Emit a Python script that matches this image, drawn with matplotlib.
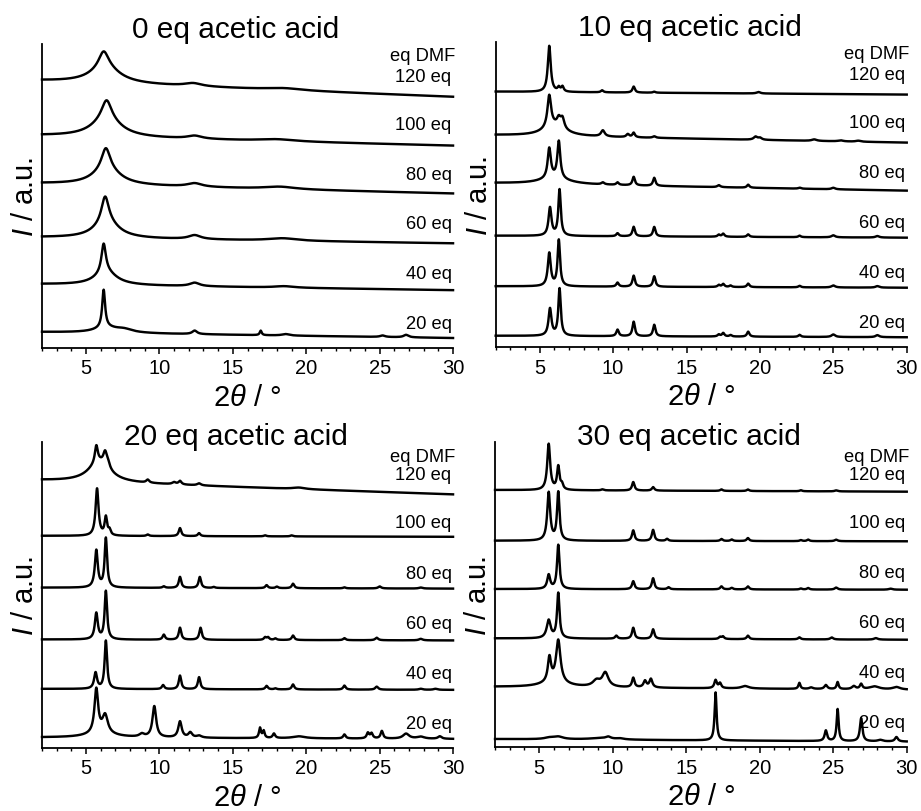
import numpy as np
import matplotlib
matplotlib.use("Agg")
import matplotlib.pyplot as plt
from matplotlib.ticker import MultipleLocator
from matplotlib.transforms import blended_transform_factory

plt.rcParams['font.family'] = ['Liberation Sans', 'DejaVu Sans']
plt.rcParams['mathtext.fontset'] = 'custom'
plt.rcParams['mathtext.rm'] = 'Liberation Sans'
plt.rcParams['mathtext.it'] = 'Liberation Sans:italic'

# 2theta grid (degrees)
two_theta = np.linspace(2, 30, 2801)

panel_titles = ['0 eq acetic acid', '10 eq acetic acid',
                '20 eq acetic acid', '30 eq acetic acid']
dmf_labels = ['20 eq', '40 eq', '60 eq', '80 eq', '100 eq', '120 eq']
label_heights = [16, 66, 116, 166, 216, 264]

# baseline (at 2 deg, at 30 deg) for each trace, bottom to top
base_aa0 = [(16, 10), (64, 58), (111, 105), (165, 155), (213, 203), (268, 252)]
base_aa10 = [(11.5, 10), (61, 59.5), (111.5, 109.5), (164, 156.5), (212, 204.5), (255.5, 252.5)]
base_aa20 = [(10.5, 9), (59, 58), (108.3, 107.3), (160, 159), (211.7, 210.7), (267, 253)]
base_aa30 = [(8.3, 5.7), (60.5, 57.6), (109, 107.6), (158.3, 157.6), (206.6, 206), (257.3, 255.6)]

# reflections: (position, height, half width)
peaks_aa0 = [
    [(6.2, 38, 0.12), (6.4, 5, 1.0), (7.6, 3, 0.7), (12.4, 3.5, 0.2), (16.9, 4.5, 0.08),
     (18.6, 1.5, 0.3), (25.2, 1.5, 0.2), (26.8, 2.5, 0.2)],
    [(6.2, 29, 0.18), (6.35, 13, 0.9), (12.4, 3.5, 0.4), (18.5, 1.5, 0.8)],
    [(6.3, 26, 0.3), (6.4, 16, 1.0), (12.4, 4, 0.5), (18.4, 2.5, 1.2)],
    [(6.35, 21, 0.35), (6.4, 16, 1.1), (12.4, 3.5, 0.6), (18.2, 2.5, 1.3)],
    [(6.4, 19, 0.4), (6.4, 18, 1.2), (12.4, 3, 0.6), (18.0, 2, 1.5)],
    [(6.2, 16, 0.4), (6.3, 16, 1.2), (12.3, 3, 0.7), (18.5, 2, 1.5)],
]
peaks_aa10 = [
    [(5.7, 27, 0.12), (6.35, 47, 0.1), (10.3, 6.5, 0.1), (11.4, 14.5, 0.1), (12.8, 11.5, 0.1),
     (17.2, 2, 0.1), (17.5, 3.5, 0.1), (18.0, 1.5, 0.1), (19.2, 5, 0.1), (22.7, 2, 0.1),
     (25.0, 2.5, 0.15), (28.0, 2, 0.15)],
    [(5.65, 33, 0.12), (6.3, 46, 0.1), (10.3, 4, 0.1), (11.4, 11, 0.1), (12.8, 10.5, 0.1),
     (17.2, 2, 0.1), (17.5, 3, 0.1), (18.0, 1.5, 0.1), (19.2, 3.5, 0.1), (22.7, 1.5, 0.1),
     (25.0, 2, 0.15), (28.0, 1.5, 0.15)],
    [(5.7, 28, 0.12), (6.35, 46, 0.1), (10.3, 3, 0.1), (11.4, 9.5, 0.1), (12.8, 9.5, 0.1),
     (17.2, 2, 0.1), (17.5, 3, 0.1), (19.2, 2.5, 0.1), (22.7, 1.5, 0.1), (25.0, 2, 0.15),
     (28.0, 1.5, 0.15)],
    [(5.65, 30, 0.13), (6.3, 37, 0.12), (6.0, 6, 1.2), (9.3, 2, 0.12), (10.3, 2.5, 0.1),
     (11.4, 8.5, 0.1), (12.8, 8, 0.1), (17.2, 2, 0.12), (19.2, 3, 0.1), (22.7, 1, 0.1),
     (25.0, 1.5, 0.15)],
    [(5.65, 32, 0.15), (6.0, 10, 0.9), (6.3, 8, 0.15), (6.55, 10, 0.15), (9.3, 6, 0.15),
     (11.0, 3, 0.12), (11.4, 4.5, 0.1), (12.8, 1.5, 0.12), (19.7, 3, 0.15), (20.0, 2, 0.15),
     (23.7, 1.5, 0.2), (25.5, 1, 0.2), (26.7, 1, 0.2)],
    [(5.65, 46, 0.12), (6.3, 4, 0.1), (6.55, 5, 0.1), (9.25, 2, 0.1), (11.4, 6, 0.1),
     (12.8, 1, 0.1), (19.9, 1.5, 0.15)],
]
peaks_aa20 = [
    [(5.7, 44, 0.15), (6.3, 18, 0.22), (6.0, 4, 1.2), (8.8, 3, 0.2), (9.65, 31, 0.15),
     (11.4, 16, 0.14), (12.1, 5, 0.15), (12.7, 2, 0.2), (16.85, 10, 0.08), (17.1, 7, 0.08),
     (17.8, 4.5, 0.1), (19.5, 2, 0.5), (22.6, 4, 0.1), (24.2, 5.5, 0.1), (24.45, 5, 0.1),
     (25.15, 7.5, 0.1), (26.8, 5, 0.25), (27.8, 2, 0.3), (29.1, 2.5, 0.15)],
    [(5.65, 16, 0.12), (6.35, 48, 0.1), (10.25, 4, 0.1), (11.4, 13.5, 0.1), (12.7, 12, 0.1),
     (17.3, 3.5, 0.1), (17.9, 1, 0.1), (19.1, 5, 0.1), (22.6, 4, 0.1), (24.8, 3, 0.12),
     (27.8, 1, 0.15), (28.8, 1, 0.15)],
    [(5.7, 26, 0.12), (6.35, 48, 0.1), (10.3, 5, 0.1), (11.4, 12, 0.1), (12.8, 12, 0.1),
     (17.2, 2.5, 0.1), (17.4, 2.5, 0.1), (17.9, 1.5, 0.1), (19.1, 4.5, 0.1), (22.6, 2, 0.1),
     (24.8, 2.5, 0.12), (27.8, 1.5, 0.15)],
    [(5.7, 37, 0.12), (6.35, 49, 0.1), (10.3, 1.5, 0.1), (11.4, 11, 0.1), (12.75, 11, 0.1),
     (13.7, 1, 0.1), (17.3, 3, 0.1), (18.0, 1.5, 0.1), (19.1, 4.5, 0.1), (22.6, 1, 0.1),
     (25.0, 2, 0.12), (27.8, 1, 0.15)],
    [(5.75, 47, 0.12), (6.35, 18, 0.1), (6.6, 5, 0.1), (9.2, 1.5, 0.1), (11.4, 8, 0.1),
     (12.7, 3, 0.1), (17.2, 1, 0.1), (19.0, 1, 0.1)],
    [(5.9, 20, 0.9), (5.7, 17, 0.12), (6.3, 13, 0.15), (6.5, 5, 0.15), (9.2, 3, 0.12),
     (11.0, 2, 0.15), (11.4, 3.5, 0.12), (12.7, 2, 0.15), (19.5, 1.5, 0.5)],
]
peaks_aa30 = [
    [(5.7, 1.5, 0.4), (6.3, 2.5, 0.4), (9.2, 1.5, 1.0), (9.7, 2, 0.2), (10.5, 1, 0.3),
     (17.0, 48, 0.08), (24.5, 10.5, 0.1), (25.3, 32, 0.08), (26.9, 23, 0.1), (28.2, 1.5, 0.2),
     (29.3, 4.5, 0.12)],
    [(5.7, 24, 0.13), (6.3, 42, 0.18), (6.0, 5, 1.0), (8.9, 6, 0.3), (9.5, 14, 0.25),
     (11.4, 9.5, 0.1), (12.2, 6.5, 0.12), (12.6, 8.5, 0.12), (17.0, 8, 0.1), (17.3, 5, 0.1),
     (19.0, 2.5, 0.3), (22.7, 6, 0.08), (23.5, 1.5, 0.15), (24.5, 4, 0.12), (25.3, 7, 0.08),
     (26.4, 3, 0.15), (26.9, 5, 0.1), (27.8, 3, 0.4), (29.3, 2.5, 0.3)],
    [(5.65, 18, 0.16), (6.3, 45, 0.1), (10.25, 3, 0.1), (11.4, 11, 0.1), (12.75, 9.5, 0.1),
     (17.3, 2, 0.1), (17.5, 2.5, 0.1), (19.2, 3.5, 0.1), (22.7, 2, 0.1), (24.9, 2, 0.12),
     (27.9, 1.5, 0.15)],
    [(5.65, 14, 0.12), (6.3, 44, 0.1), (11.4, 8, 0.1), (12.75, 11, 0.1), (13.8, 2, 0.1),
     (17.4, 3, 0.1), (18.1, 1.5, 0.1), (19.2, 3, 0.1), (22.8, 1, 0.1), (23.3, 1.5, 0.1),
     (25.2, 2, 0.12), (28.9, 1, 0.15)],
    [(5.65, 48, 0.12), (6.3, 48, 0.1), (11.4, 10.5, 0.1), (12.75, 11, 0.1), (13.7, 2, 0.1),
     (17.4, 2, 0.1), (18.1, 1.5, 0.1), (19.2, 3, 0.1), (22.8, 1, 0.1), (23.3, 1.5, 0.1),
     (25.2, 1.5, 0.12)],
    [(5.65, 46, 0.12), (6.3, 23, 0.1), (6.55, 5, 0.1), (9.3, 1, 0.1), (11.4, 8.5, 0.1),
     (12.75, 3.5, 0.1), (17.4, 1.5, 0.1), (19.2, 1.5, 0.1), (22.8, 1, 0.1), (25.2, 1, 0.12)],
]


def pattern(base, peaks):
    # straight background plus Lorentzian reflections
    y = base[0] + (base[1] - base[0]) * (two_theta - 2) / 28
    for pos, height, hw in peaks:
        y = y + height / (1 + ((two_theta - pos) / hw) ** 2)
    return y


fig = plt.figure(figsize=(9.21, 8.12), dpi=100)
axes_rects = [
    [0.0456, 0.5702, 0.4463, 0.3744],
    [0.5382, 0.5711, 0.4463, 0.3759],
    [0.0456, 0.0776, 0.4463, 0.3765],
    [0.5375, 0.0784, 0.4470, 0.3757],
]
bases = [base_aa0, base_aa10, base_aa20, base_aa30]
peak_sets = [peaks_aa0, peaks_aa10, peaks_aa20, peaks_aa30]

for i in range(4):
    ax = fig.add_axes(axes_rects[i])
    for base, peaks in zip(bases[i], peak_sets[i]):
        ax.plot(two_theta, pattern(base, peaks), color='black', lw=1.75, clip_on=False)

    ax.set_xlim(2, 30)
    ax.set_ylim(0, 305)
    ax.set_xticks(range(5, 31, 5))
    ax.xaxis.set_minor_locator(MultipleLocator(1))
    ax.set_yticks([])
    ax.tick_params(axis='x', which='major', direction='out', length=4.5, width=1.1,
                   labelsize=14.5, pad=3)
    ax.tick_params(axis='x', which='minor', direction='out', length=2.5, width=1.0)
    for side in ['top', 'right']:
        ax.spines[side].set_visible(False)
    for side in ['left', 'bottom']:
        ax.spines[side].set_linewidth(1.3)

    ax.set_xlabel(r'$\mathit{2\theta}$ / °', fontsize=21, labelpad=4)
    ax.set_ylabel(r'$\mathit{I}$ / a.u.', fontsize=21, labelpad=2)

    trans = blended_transform_factory(ax.transData, ax.transAxes)
    title_y = 1.023 if i < 2 else 0.994
    ax.text(15.2, title_y, panel_titles[i], transform=trans, ha='center',
            va='baseline', fontsize=21.5)

    for lab, h in zip(dmf_labels, label_heights):
        ax.text(29.9, h, lab, ha='right', va='bottom', fontsize=13.2)
    ax.text(30.15, 285 if i < 2 else 282, 'eq DMF', ha='right', va='bottom',
            fontsize=13.2, clip_on=False)

fig.savefig('out.png', dpi=100)
